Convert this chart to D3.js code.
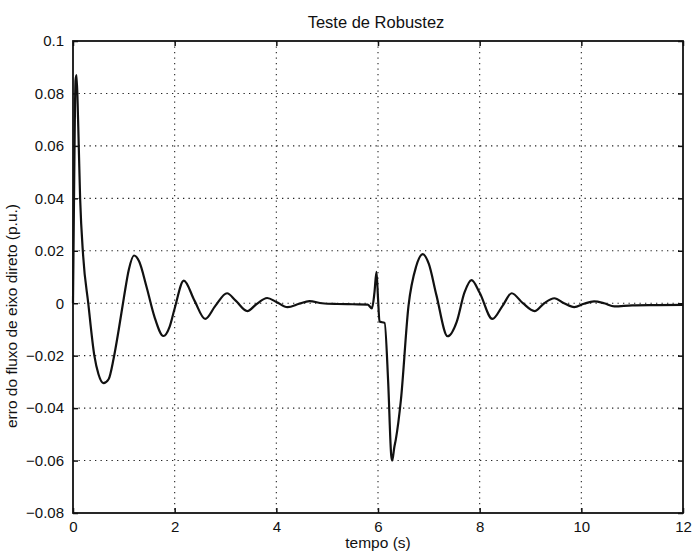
<!DOCTYPE html>
<html>
<head>
<meta charset="utf-8">
<script src="https://cdn.jsdelivr.net/npm/d3@7"></script>
<style>
  html, body { margin: 0; padding: 0; background: #fff; }
  svg { display: block; }
  text { font-family: "Liberation Sans", Arial, Helvetica, sans-serif; fill: #111; }
</style>
</head>
<body>
<svg id="chart" width="694" height="553"></svg>
<script>
// ---- data ----
const titleText = "Teste de Robustez";
const xLabelText = "tempo (s)";
const yLabelText = "erro do fluxo de eixo direto (p.u.)";

const xTicks = [0, 2, 4, 6, 8, 10, 12];
const xTickLabels = ["0", "2", "4", "6", "8", "10", "12"];
const yTicks = [0.1, 0.08, 0.06, 0.04, 0.02, 0, -0.02, -0.04, -0.06, -0.08];
const yTickLabels = ["0.1", "0.08", "0.06", "0.04", "0.02", "0", "\u22120.02", "\u22120.04", "\u22120.06", "\u22120.08"];

const time = [0, 0.02, 0.05, 0.07, 0.1, 0.14, 0.2, 0.3, 0.42, 0.5, 0.6, 0.7, 0.8, 0.9, 1.0, 1.1, 1.2, 1.3, 1.45, 1.6, 1.78, 1.9, 2.0, 2.18, 2.39, 2.6, 2.8, 3.03, 3.2, 3.43, 3.6, 3.82, 4.0, 4.22, 4.45, 4.65, 4.9, 5.2, 5.5, 5.8, 5.88, 5.93, 5.97, 6.0, 6.03, 6.13, 6.2, 6.26, 6.28, 6.32, 6.35, 6.45, 6.6, 6.75, 6.88, 7.0, 7.15, 7.37, 7.55, 7.7, 7.84, 8.0, 8.25, 8.45, 8.63, 8.85, 9.08, 9.27, 9.47, 9.66, 9.86, 10.05, 10.25, 10.45, 10.65, 11.0, 11.5, 12];
const erro = [0.0, 0.04, 0.085, 0.087, 0.07, 0.04, 0.018, 0.0, -0.02, -0.027, -0.0305, -0.029, -0.021, -0.01, 0.002, 0.013, 0.0182, 0.016, 0.006, -0.005, -0.0125, -0.009, -0.002, 0.0086, 0.001, -0.006, -0.001, 0.0038, 0.001, -0.003, -0.0005, 0.002, 0.0005, -0.0015, -0.0002, 0.0008, 0.0, -0.0003, -0.0004, -0.0005, -0.002, 0.004, 0.012, 0.002, -0.007, -0.0075, -0.03, -0.058, -0.06, -0.055, -0.052, -0.037, -0.001, 0.014, 0.0187, 0.015, 0.003, -0.0126, -0.007, 0.004, 0.0088, 0.004, -0.006, -0.001, 0.0038, 0.0, -0.003, 0.0, 0.0019, 0.0, -0.0015, -0.0002, 0.0007, 0.0, -0.0012, -0.0008, -0.0007, -0.0006];

// ---- layout ----
const svg = d3.select("#chart");
const mLeft = 73, mRight = 683, mTop = 41, mBottom = 513;

const x = d3.scaleLinear().domain([0, 12]).range([mLeft, mRight]);
const y = d3.scaleLinear().domain([-0.08, 0.1]).range([mBottom, mTop]);

// grid (dotted)
const grid = svg.append("g").attr("stroke", "#222").attr("stroke-width", 1.1)
  .attr("stroke-dasharray", "1.3,4.2").attr("fill", "none");
grid.selectAll("line.gx").data(xTicks.slice(1, -1)).join("line")
  .attr("x1", d => x(d)).attr("x2", d => x(d)).attr("y1", mTop).attr("y2", mBottom);
grid.selectAll("line.gy").data(yTicks.slice(1, -1)).join("line")
  .attr("y1", d => y(d)).attr("y2", d => y(d)).attr("x1", mLeft).attr("x2", mRight);

// axes with inward ticks
const tickLen = 5;
const fmtX = (d, i) => xTickLabels[i];
const fmtY = (d, i) => yTickLabels[i];

const axB = svg.append("g").attr("transform", `translate(0,${mBottom})`)
  .call(d3.axisBottom(x).tickValues(xTicks).tickFormat(fmtX).tickSizeInner(-tickLen).tickSizeOuter(0).tickPadding(8));
const axT = svg.append("g").attr("transform", `translate(0,${mTop})`)
  .call(d3.axisTop(x).tickValues(xTicks).tickFormat("").tickSizeInner(-tickLen).tickSizeOuter(0));
const axL = svg.append("g").attr("transform", `translate(${mLeft},0)`)
  .call(d3.axisLeft(y).tickValues(yTicks).tickFormat(fmtY).tickSizeInner(-tickLen).tickSizeOuter(0).tickPadding(9));
const axR = svg.append("g").attr("transform", `translate(${mRight},0)`)
  .call(d3.axisRight(y).tickValues(yTicks).tickFormat("").tickSizeInner(-tickLen).tickSizeOuter(0));

[axB, axT, axL, axR].forEach(a => {
  a.select(".domain").remove();
  a.selectAll(".tick line").attr("stroke", "#111").attr("stroke-width", 1.5);
  a.selectAll("text").attr("font-size", 15).attr("fill", "#111")
    .attr("font-family", "'Liberation Sans', Arial, Helvetica, sans-serif");
});
axB.selectAll("text").attr("dy", "0.75em");

// frame
svg.append("rect").attr("x", mLeft).attr("y", mTop).attr("width", mRight - mLeft).attr("height", mBottom - mTop)
  .attr("fill", "none").attr("stroke", "#111").attr("stroke-width", 1.8);

// data line
const pts = time.map((t, i) => [t, erro[i]]);
const line = d3.line().x(d => x(d[0])).y(d => y(d[1])).curve(d3.curveMonotoneX);
svg.append("path").datum(pts).attr("d", line)
  .attr("fill", "none").attr("stroke", "#111").attr("stroke-width", 2.2).attr("stroke-linejoin", "round");

// title and labels
svg.append("text").attr("x", 376).attr("y", 28).attr("text-anchor", "middle")
  .attr("font-size", 16.5).text(titleText);
svg.append("text").attr("x", 378).attr("y", 548).attr("text-anchor", "middle")
  .attr("font-size", 15.5).text(xLabelText);
svg.append("text").attr("transform", `translate(17,316) rotate(-90)`)
  .attr("text-anchor", "middle").attr("font-size", 15.5).text(yLabelText);
</script>
</body>
</html>
